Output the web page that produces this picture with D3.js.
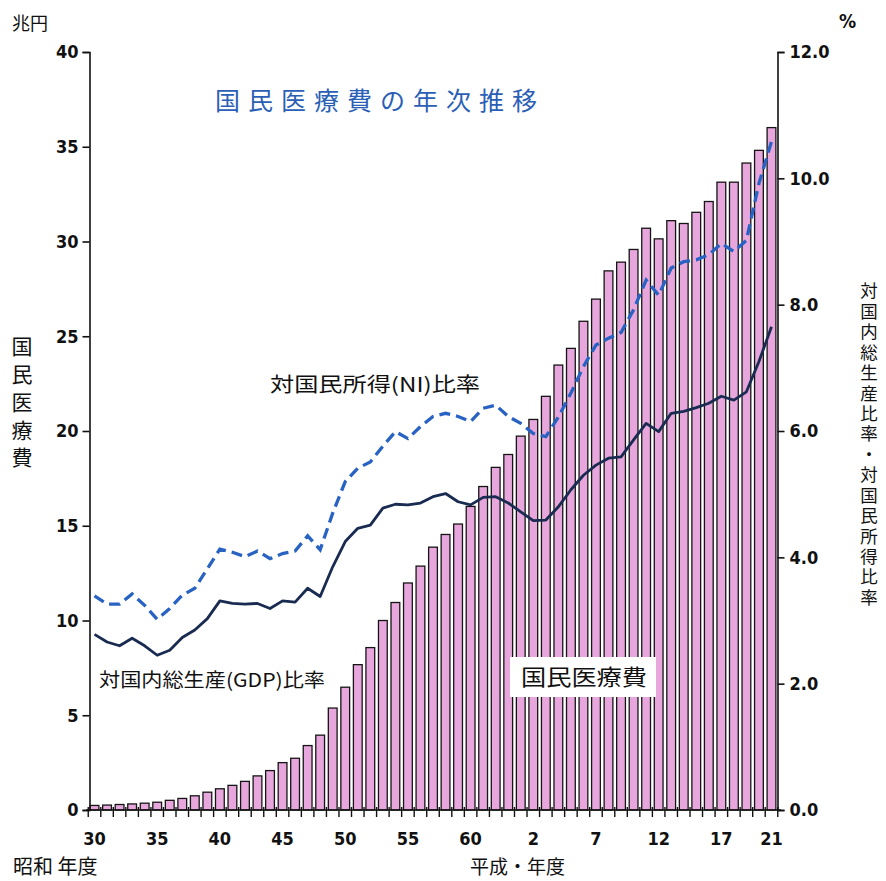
<!DOCTYPE html>
<html>
<head>
<meta charset="utf-8">
<script src="https://cdn.jsdelivr.net/npm/d3@7"></script>
<style>
  html, body { margin: 0; padding: 0; background: #fff; }
  svg { display: block; }
  .jp { font-family: "Noto Sans CJK JP", "Noto Sans", sans-serif; }
  .num { font-family: "DejaVu Sans", sans-serif; font-stretch: condensed; font-weight: 600; }
  .vert { writing-mode: vertical-rl; text-orientation: upright; }
</style>
</head>
<body>
<svg id="chart" width="886" height="881"></svg>
<script>
// 年度（昭和30年度〜平成21年度）
const years = [
  "昭和30","昭和31","昭和32","昭和33","昭和34","昭和35","昭和36","昭和37","昭和38","昭和39",
  "昭和40","昭和41","昭和42","昭和43","昭和44","昭和45","昭和46","昭和47","昭和48","昭和49",
  "昭和50","昭和51","昭和52","昭和53","昭和54","昭和55","昭和56","昭和57","昭和58","昭和59",
  "昭和60","昭和61","昭和62","昭和63","平成元","平成2","平成3","平成4","平成5","平成6",
  "平成7","平成8","平成9","平成10","平成11","平成12","平成13","平成14","平成15","平成16",
  "平成17","平成18","平成19","平成20","平成21"
];

// 国民医療費（兆円）
const expenditure = [
  0.24, 0.26, 0.29, 0.32, 0.36, 0.41, 0.51, 0.61, 0.75, 0.94,
  1.12, 1.30, 1.51, 1.80, 2.08, 2.50, 2.73, 3.40, 3.95, 5.38,
  6.48, 7.67, 8.57, 10.00, 10.95, 11.98, 12.87, 13.87, 14.54, 15.09,
  16.02, 17.07, 18.08, 18.76, 19.73, 20.61, 21.83, 23.48, 24.36, 25.79,
  26.96, 28.45, 28.91, 29.58, 30.70, 30.14, 31.10, 30.95, 31.54, 32.11,
  33.13, 33.13, 34.14, 34.81, 36.01
];

// 対国内総生産（GDP）比率（%）
const gdpRatio = [
  2.78, 2.66, 2.60, 2.72, 2.60, 2.45, 2.53, 2.73, 2.85, 3.03,
  3.31, 3.27, 3.26, 3.27, 3.19, 3.31, 3.29, 3.51, 3.38, 3.85,
  4.25, 4.46, 4.51, 4.78, 4.84, 4.83, 4.86, 4.96, 5.01, 4.88,
  4.83, 4.95, 4.96, 4.86, 4.72, 4.58, 4.59, 4.80, 5.07, 5.30,
  5.46, 5.57, 5.59, 5.86, 6.12, 5.99, 6.28, 6.31, 6.37, 6.44,
  6.55, 6.49, 6.62, 7.10, 7.65
];

// 対国民所得（NI）比率（%）
const niRatio = [
  3.39, 3.26, 3.26, 3.42, 3.24, 3.02, 3.19, 3.40, 3.51, 3.82,
  4.13, 4.08, 4.01, 4.10, 3.98, 4.06, 4.10, 4.34, 4.12, 4.70,
  5.20, 5.41, 5.51, 5.76, 5.99, 5.88, 6.07, 6.23, 6.28, 6.23,
  6.15, 6.36, 6.41, 6.23, 6.12, 5.96, 5.91, 6.22, 6.60, 7.02,
  7.36, 7.47, 7.56, 7.92, 8.39, 8.15, 8.58, 8.68, 8.71, 8.79,
  8.97, 8.84, 9.02, 9.92, 10.58
];

// 横軸の目盛ラベル
const labeledYears = ["昭和30","昭和35","昭和40","昭和45","昭和50","昭和55","昭和60","平成2","平成7","平成12","平成17","平成21"];
const xTickLabels = ["30","35","40","45","50","55","60","2","7","12","17","21"];

// 縦軸の目盛
const leftTicks = [0, 5, 10, 15, 20, 25, 30, 35, 40];
const rightTicks = [0, 2, 4, 6, 8, 10, 12];

const svg = d3.select("#chart");

const x = d3.scaleBand().domain(years).range([89.5, 776.5]).paddingInner(0.3).paddingOuter(0.05);
const yL = d3.scaleLinear().domain([0, 40]).range([810, 52]);
const yR = d3.scaleLinear().domain([0, 12]).range([810, 52]);
const cx = d => x(d) + x.bandwidth() / 2;

const rows = years.map((y, i) => ({ year: y, exp: expenditure[i], gdp: gdpRatio[i], ni: niRatio[i] }));

// 棒グラフ：国民医療費
svg.append("g")
  .selectAll("rect")
  .data(rows)
  .join("rect")
  .attr("x", d => x(d.year))
  .attr("y", d => yL(d.exp))
  .attr("width", x.bandwidth())
  .attr("height", d => yL(0) - yL(d.exp))
  .attr("fill", "#e7a7dd")
  .attr("stroke", "#151515")
  .attr("stroke-width", 1.3);

// 棒グラフのラベル（白抜きの枠）
const boxG = svg.append("g");
boxG.append("rect")
  .attr("x", 510).attr("y", 657).attr("width", 146).attr("height", 40)
  .attr("fill", "#fff");
boxG.append("text")
  .attr("class", "jp")
  .attr("x", 521).attr("y", 685)
  .attr("font-size", 22)
  .attr("textLength", 126).attr("lengthAdjust", "spacingAndGlyphs")
  .attr("fill", "#111")
  .text("国民医療費");

// 折れ線：対GDP比率（実線）、対NI比率（破線）
const lineGdp = d3.line().x(d => cx(d.year)).y(d => yR(d.gdp));
const lineNi = d3.line().x(d => cx(d.year)).y(d => yR(d.ni));

svg.append("path")
  .datum(rows)
  .attr("d", lineGdp)
  .attr("fill", "none")
  .attr("stroke", "#1a2b52")
  .attr("stroke-width", 2.8)
  .attr("stroke-linejoin", "round");

svg.append("path")
  .datum(rows)
  .attr("d", lineNi)
  .attr("fill", "none")
  .attr("stroke", "#2862c2")
  .attr("stroke-width", 3.3)
  .attr("stroke-dasharray", "11,6");

// 左軸（兆円）
const axL = svg.append("g")
  .attr("transform", "translate(89.5,0)")
  .call(d3.axisLeft(yL).tickValues(leftTicks).tickSize(7).tickSizeOuter(7).tickFormat(d3.format("d")));
// 右軸（%）
const axR = svg.append("g")
  .attr("transform", "translate(777.5,0)")
  .call(d3.axisRight(yR).tickValues(rightTicks).tickSize(7).tickSizeOuter(7).tickFormat(d3.format(".1f")));

[axL, axR].forEach(g => {
  g.select(".domain").attr("stroke", "#111").attr("stroke-width", 1.6);
  g.selectAll(".tick line").attr("stroke", "#111").attr("stroke-width", 1.6);
  g.selectAll(".tick text")
    .attr("class", "num")
    .attr("font-size", 18)
    .attr("fill", "#111");
});
axL.selectAll(".tick text").attr("x", -11);
axR.selectAll(".tick text").attr("x", 12);

// 下軸
const axB = svg.append("g").attr("transform", "translate(0,810)");
axB.append("line")
  .attr("x1", 86).attr("x2", 781)
  .attr("stroke", "#111").attr("stroke-width", 1.6);
const step = x.step();
const boundaries = years.map(y => x(y) - (step - x.bandwidth()) / 2).concat([x(years[years.length - 1]) + x.bandwidth() + (step - x.bandwidth()) / 2]);
axB.selectAll("line.tk")
  .data(boundaries)
  .join("line")
  .attr("class", "tk")
  .attr("x1", d => d).attr("x2", d => d)
  .attr("y1", -3).attr("y2", 7)
  .attr("stroke", "#111").attr("stroke-width", 1.4);
axB.selectAll("text.lbl")
  .data(labeledYears)
  .join("text")
  .attr("class", "num lbl")
  .attr("x", d => cx(d))
  .attr("y", 35)
  .attr("text-anchor", "middle")
  .attr("font-size", 18)
  .attr("fill", "#111")
  .text((d, i) => xTickLabels[i]);

// 表題
svg.append("text")
  .attr("class", "jp")
  .attr("x", 215).attr("y", 110)
  .attr("font-size", 25)
  .attr("textLength", 322).attr("lengthAdjust", "spacing")
  .attr("fill", "#2b5fb6")
  .text("国民医療費の年次推移");

// 単位
svg.append("text").attr("class", "jp").attr("x", 12).attr("y", 30)
  .attr("font-size", 18).attr("fill", "#111").text("兆円");
svg.append("text").attr("class", "num").attr("x", 839).attr("y", 28)
  .attr("font-size", 19).attr("fill", "#111").text("%");

// 系列ラベル
svg.append("text").attr("class", "jp").attr("x", 270).attr("y", 392)
  .attr("font-size", 20).attr("textLength", 210).attr("lengthAdjust", "spacingAndGlyphs")
  .attr("fill", "#111").text("対国民所得(NI)比率");
svg.append("text").attr("class", "jp").attr("x", 99).attr("y", 687)
  .attr("font-size", 19).attr("textLength", 226).attr("lengthAdjust", "spacingAndGlyphs")
  .attr("fill", "#111").text("対国内総生産(GDP)比率");

// 軸タイトル（縦書き）
svg.append("text")
  .attr("class", "jp vert")
  .attr("x", 22).attr("y", 336)
  .attr("font-size", 21)
  .attr("textLength", 132).attr("lengthAdjust", "spacing")
  .attr("fill", "#111")
  .text("国民医療費");

svg.append("text")
  .attr("class", "jp vert")
  .attr("x", 869).attr("y", 282)
  .attr("font-size", 17.5)
  .attr("textLength", 324).attr("lengthAdjust", "spacing")
  .attr("fill", "#111")
  .text("対国内総生産比率・対国民所得比率");

// 年度の区分
svg.append("text").attr("class", "jp").attr("x", 13).attr("y", 874)
  .attr("font-size", 20).attr("fill", "#111").text("昭和 年度");
svg.append("text").attr("class", "jp").attr("x", 470).attr("y", 874)
  .attr("font-size", 19).attr("fill", "#111").text("平成・年度");
</script>
</body>
</html>
